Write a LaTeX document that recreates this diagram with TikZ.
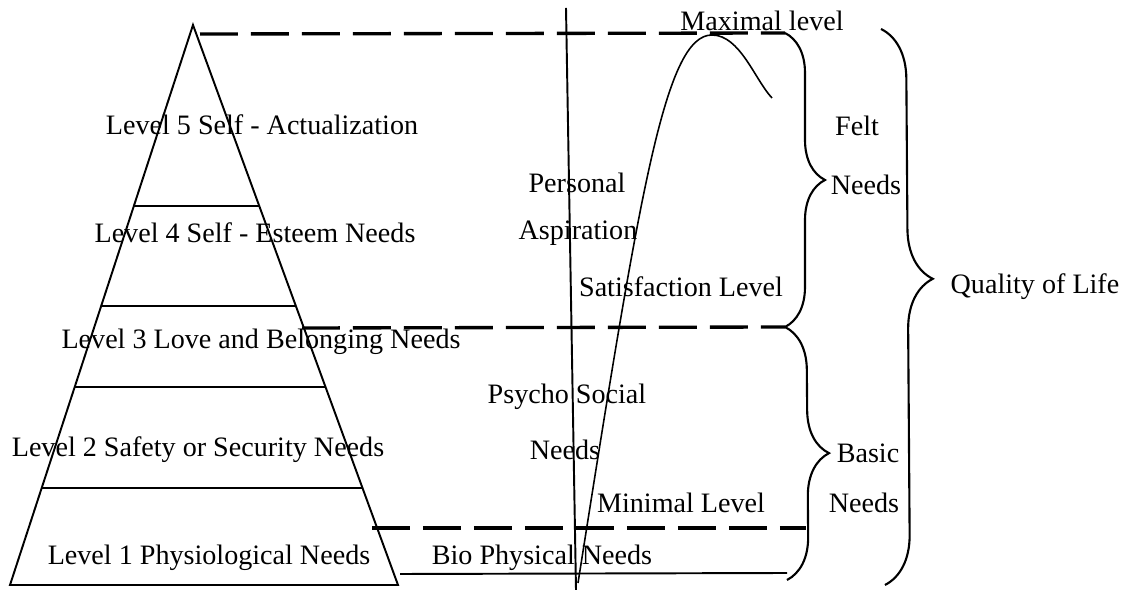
\documentclass[tikz,border=0pt]{standalone}
\usepackage{fontspec}
\setmainfont{Liberation Serif}
\usetikzlibrary{calc,decorations.pathreplacing}

\tikzset{
  lbl/.style={inner sep=0pt, font=\fontsize{16}{19}\selectfont},
  level/.style={line width=1.1pt},
  guide/.style={line width=1.9pt, dash pattern=on 0.76cm off 0.26cm},
  bracket/.style={line width=1.2pt, decorate, decoration={brace, amplitude=#1, aspect=0.5}},
  bracket/.default=0.8cm,
}

\begin{document}
\begin{tikzpicture}[x=0.02cm, y=-0.02cm]
    \useasboundingbox (0,0) rectangle (1133,590);

    % --- Coordinates ---
    \coordinate (apex) at (193,25);
    \coordinate (bl) at (10,585);
    \coordinate (br) at (398,585);
    \coordinate (axtop) at (566,8);
    \coordinate (axbot) at (576,590);
    \coordinate (maxl) at (200,34);
    \coordinate (maxr) at (785,33);
    \coordinate (midl) at (302,328);
    \coordinate (midr) at (785,327);
    \coordinate (minl) at (372,528);
    \coordinate (minr) at (806,528);
    \coordinate (bioL) at (400,574);
    \coordinate (bioR) at (787,573);
    \coordinate (basr) at (787,580);
    \coordinate (qtop) at (881,29);
    \coordinate (qbot) at (885,585);

    % --- Pyramid ---
    \draw[level] (bl) -- (apex) -- (br) -- cycle;
    \draw[level] ($(apex)!0.323!(bl)$) -- ($(apex)!0.323!(br)$);
    \draw[level] ($(apex)!0.502!(bl)$) -- ($(apex)!0.502!(br)$);
    \draw[level] ($(apex)!0.646!(bl)$) -- ($(apex)!0.646!(br)$);
    \draw[level] ($(apex)!0.827!(bl)$) -- ($(apex)!0.827!(br)$);

    % --- Levels ---
    \node[lbl] (lvl5) at (262,125) {Level 5 Self - Actualization};
    \node[lbl] (lvl4) at (255,233) {Level 4 Self - Esteem Needs};
    \node[lbl] (lvl3) at (261,342) {Level 3 Love and Belonging Needs};
    \node[lbl] (lvl2) at (198,450) {Level 2 Safety or Security Needs};
    \node[lbl] (lvl1) at (209,558) {Level 1 Physiological Needs};

    % --- Level lines and axis ---
    \draw[guide] (maxl) -- (maxr);
    \draw[guide] (midl) -- (midr);
    \draw[guide] (minl) -- (minr);
    \draw[level] (bioL) -- (bioR);
    \draw[level] (axtop) -- (axbot);

    % --- Satisfaction curve ---
    \draw[line width=0.9pt] (578,583) .. controls (640,190) and (665,35) .. (712,35)
        .. controls (740,35) and (755,80) .. (772,98);

    % --- Curve labels ---
    \node[lbl] (maxlbl) at (762,21) {Maximal level};
    \node[lbl] (pers) at (577,183) {Personal};
    \node[lbl] (asp) at (578,233) {Aspiration};
    \node[lbl] (sat) at (681,287) {Satisfaction Level};
    \node[lbl] (psy) at (567,397) {Psycho Social};
    \node[lbl] (psyn) at (565,450) {Needs};
    \node[lbl] (minlbl) at (681,503) {Minimal Level};
    \node[lbl] (bio) at (542,558) {Bio Physical Needs};

    % --- Braces ---
    \draw[bracket] (maxr) -- (midr);
    \draw[bracket=0.86cm] (midr) -- (basr);
    \draw[bracket=1cm, decoration={aspect=0.45}] (qtop) -- (qbot);

    \node[lbl] (felt) at (857,126) {Felt};
    \node[lbl] (feltn) at (866,185) {Needs};
    \node[lbl] (basic) at (868,453) {Basic};
    \node[lbl] (basicn) at (864,503) {Needs};
    \node[lbl] (qol) at (1035,287) {Quality of Life};

\end{tikzpicture}
\end{document}
